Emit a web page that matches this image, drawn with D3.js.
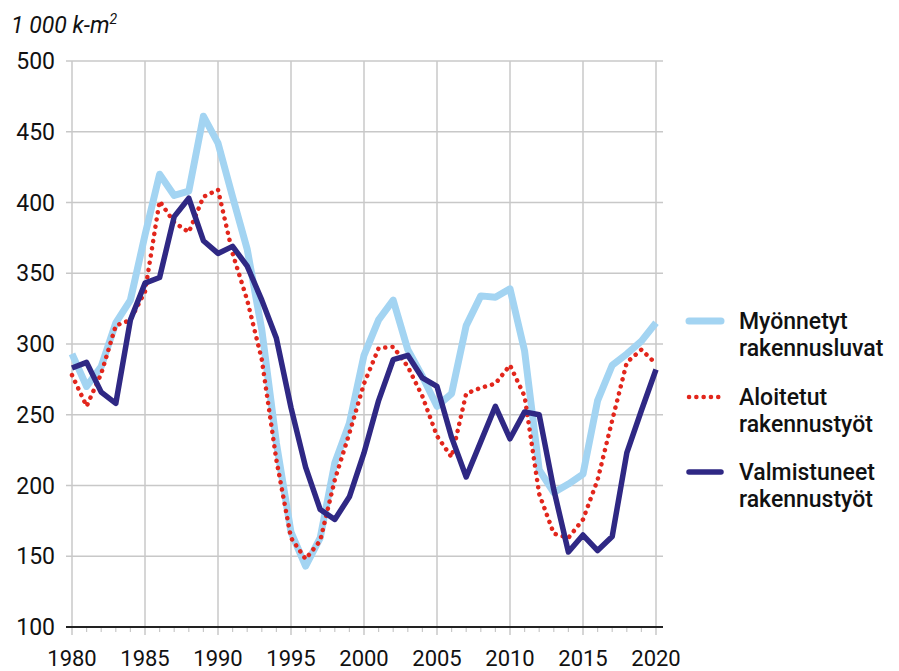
<!DOCTYPE html>
<html>
<head>
<meta charset="utf-8">
<script src="https://cdn.jsdelivr.net/npm/d3@7"></script>
<style>
  html, body { margin: 0; padding: 0; background: #fff; }
  svg { display: block; font-family: Roboto, "Noto Sans", sans-serif; }
</style>
</head>
<body>
<svg id="chart" width="899" height="671"></svg>
<script>
// Building volume, 1 000 cubic metres per year
const years = d3.range(1980, 2021);

const myonnetyt = [
  293, 270, 284, 315, 331, 377, 420, 405, 408, 461,
  442, 404, 367, 310, 230, 167, 143, 163, 216, 244,
  292, 317, 331, 296, 277, 256, 265, 313, 334, 333,
  339, 295, 211, 195, 201, 208, 260, 285, 293, 302,
  315
];

const aloitetut = [
  278, 256, 279, 313, 317, 337, 401, 386, 379, 404,
  409, 364, 331, 289, 218, 163, 148, 161, 204, 237,
  272, 297, 298, 284, 263, 235, 220, 265, 269, 272,
  285, 263, 194, 166, 163, 176, 204, 246, 287, 296,
  286
];

const valmistuneet = [
  283, 287, 266, 258, 317, 343, 347, 390, 403, 373,
  364, 369, 355, 331, 304, 255, 213, 183, 176, 192,
  223, 260, 289, 292, 276, 270, 234, 206, 231, 256,
  233, 252, 250, 197, 153, 165, 154, 164, 223, 253,
  282
];

const yTicks = [100, 150, 200, 250, 300, 350, 400, 450, 500];
const xTicks = [1980, 1985, 1990, 1995, 2000, 2005, 2010, 2015, 2020];

const seriesNames = [
  ["Myönnetyt", "rakennusluvat"],
  ["Aloitetut", "rakennustyöt"],
  ["Valmistuneet", "rakennustyöt"]
];
const unitLabel = "1 000 k-m";

const colors = { light: "#a3d4f2", red: "#e2261c", navy: "#2f2884" };

const svg = d3.select("#chart");

const x = d3.scaleLinear().domain([1980, 2020]).range([72, 656]);
const y = d3.scaleLinear().domain([100, 500]).range([627, 61]);
const gridLeft = 66, gridRight = 663;

// Horizontal grid lines
svg.append("g").selectAll("line")
  .data(yTicks.filter(d => d !== 100))
  .join("line")
  .attr("x1", gridLeft).attr("x2", gridRight)
  .attr("y1", d => y(d)).attr("y2", d => y(d))
  .attr("stroke", "#c8c8c8").attr("stroke-width", 1.5);

// Vertical grid lines every five years, reaching just below the baseline
svg.append("g").selectAll("line")
  .data(xTicks)
  .join("line")
  .attr("x1", d => x(d)).attr("x2", d => x(d))
  .attr("y1", y(500)).attr("y2", y(100) + 8)
  .attr("stroke", "#c8c8c8").attr("stroke-width", 1.5);

// Minor yearly ticks under the baseline
svg.append("g").selectAll("line")
  .data(years.filter(d => d % 5 !== 0))
  .join("line")
  .attr("x1", d => x(d)).attr("x2", d => x(d))
  .attr("y1", y(100)).attr("y2", y(100) + 5)
  .attr("stroke", "#c8c8c8").attr("stroke-width", 1.2);

// Baseline
svg.append("line")
  .attr("x1", gridLeft).attr("x2", gridRight)
  .attr("y1", y(100)).attr("y2", y(100))
  .attr("stroke", "#222").attr("stroke-width", 2);

// Y tick labels
svg.append("g").selectAll("text")
  .data(yTicks)
  .join("text")
  .attr("x", 55).attr("y", d => y(d) + 8)
  .attr("text-anchor", "end")
  .attr("font-size", 23)
  .attr("fill", "#111")
  .text(d => d);

// X tick labels
svg.append("g").selectAll("text")
  .data(xTicks)
  .join("text")
  .attr("x", d => x(d)).attr("y", 666)
  .attr("text-anchor", "middle")
  .attr("font-size", 22)
  .attr("fill", "#111")
  .text(d => d);

// Unit label
const unit = svg.append("text")
  .attr("x", 11).attr("y", 33)
  .attr("font-size", 23)
  .attr("font-style", "italic")
  .attr("fill", "#111")
  .text(unitLabel);
unit.append("tspan").attr("dy", -9).attr("font-size", 14).text("2");

const line = d3.line().x((d, i) => x(years[i])).y(d => y(d));

svg.append("path").datum(myonnetyt)
  .attr("d", line).attr("fill", "none")
  .attr("stroke", colors.light).attr("stroke-width", 7)
  .attr("stroke-linejoin", "round");

svg.append("path").datum(aloitetut)
  .attr("d", line).attr("fill", "none")
  .attr("stroke", colors.red).attr("stroke-width", 4.5)
  .attr("stroke-linecap", "round")
  .attr("stroke-dasharray", "0.1 7.2");

svg.append("path").datum(valmistuneet)
  .attr("d", line).attr("fill", "none")
  .attr("stroke", colors.navy).attr("stroke-width", 5.5)
  .attr("stroke-linejoin", "round");

// Legend
const legend = [
  { ly: 321, color: colors.light, width: 7, dash: null, names: seriesNames[0], base: 329 },
  { ly: 397, color: colors.red, width: 4.5, dash: "0.1 7.2", names: seriesNames[1], base: 405 },
  { ly: 472, color: colors.navy, width: 5.5, dash: null, names: seriesNames[2], base: 480 }
];
const lg = svg.append("g").selectAll("g").data(legend).join("g");
lg.append("line")
  .attr("x1", 689).attr("x2", 721)
  .attr("y1", d => d.ly).attr("y2", d => d.ly)
  .attr("stroke", d => d.color).attr("stroke-width", d => d.width)
  .attr("stroke-linecap", "round")
  .attr("stroke-dasharray", d => d.dash);
lg.append("text")
  .attr("x", 739).attr("y", d => d.base)
  .attr("font-size", 23).attr("font-weight", 500).attr("fill", "#111")
  .text(d => d.names[0]);
lg.append("text")
  .attr("x", 739).attr("y", d => d.base + 27)
  .attr("font-size", 23).attr("font-weight", 500).attr("fill", "#111")
  .text(d => d.names[1]);
</script>
</body>
</html>
